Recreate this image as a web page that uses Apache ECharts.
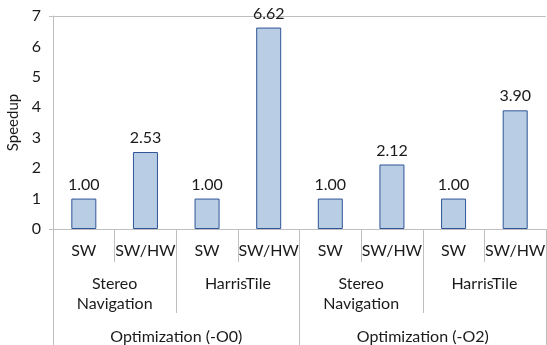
<!DOCTYPE html>
<html><head><meta charset="utf-8">
<script src="https://cdn.jsdelivr.net/npm/echarts@6/dist/echarts.min.js"></script>
<style>html,body{margin:0;padding:0;background:#fff}#c{width:547px;height:345px}</style>
</head><body><div id="c"></div>
<script>
const configs = ['SW','SW/HW','SW','SW/HW','SW','SW/HW','SW','SW/HW'];
const benchmarks = ['Stereo\nNavigation','HarrisTile','Stereo\nNavigation','HarrisTile'];
const optimizations = ['Optimization (-O0)','Optimization (-O2)'];
const speedup = [1.00, 2.53, 1.00, 6.62, 1.00, 2.12, 1.00, 3.90];
const yTicks = [0,1,2,3,4,5,6,7];

const FONT = 'Lato';
const TXT = '#1a1a1a';
const LINE = '#bfbfbf';

const chart = echarts.init(document.getElementById('c'));
chart.setOption({
  animation: false,
  grid: {left: 53, right: 1, top: 16, bottom: 116, containLabel: false, outerBoundsMode: 'none'},
  xAxis: [
    {type: 'category', data: configs, position: 'bottom',
     axisLine: {show: true, lineStyle: {color: LINE}},
     axisTick: {show: true, length: 33, alignWithLabel: false, lineStyle: {color: LINE}},
     axisLabel: {color: TXT, fontFamily: FONT, fontSize: 16, margin: 14, interval: 0}},
    {type: 'category', data: benchmarks, position: 'bottom',
     axisLine: {show: false},
     axisTick: {show: true, length: 84, lineStyle: {color: LINE}},
     axisLabel: {color: TXT, fontFamily: FONT, fontSize: 16, margin: 45, lineHeight: 20, interval: 0}},
    {type: 'category', data: optimizations, position: 'bottom',
     axisLine: {show: false},
     axisTick: {show: true, length: 116, lineStyle: {color: LINE}},
     axisLabel: {color: TXT, fontFamily: FONT, fontSize: 16, margin: 100, interval: 0}}
  ],
  yAxis: {
    type: 'value', min: yTicks[0], max: yTicks[yTicks.length-1], interval: 1,
    name: 'Speedup', nameLocation: 'middle', nameGap: 32,
    nameTextStyle: {color: TXT, fontFamily: FONT, fontSize: 15},
    axisLine: {show: true, lineStyle: {color: LINE}},
    axisTick: {show: true, length: 4, customValues: [0, 7], lineStyle: {color: LINE}},
    axisLabel: {color: TXT, fontFamily: FONT, fontSize: 16, margin: 12, customValues: yTicks},
    splitLine: {show: true, lineStyle: {color: LINE}}
  },
  series: [{
    type: 'bar', xAxisIndex: 0, data: speedup, barWidth: 25,
    itemStyle: {color: '#b9cde5', borderColor: '#2f5597', borderWidth: 1},
    label: {show: true, position: 'top', distance: 6, color: TXT, fontFamily: FONT, fontSize: 16,
            formatter: p => p.value.toFixed(2)}
  }]
});
</script></body></html>
